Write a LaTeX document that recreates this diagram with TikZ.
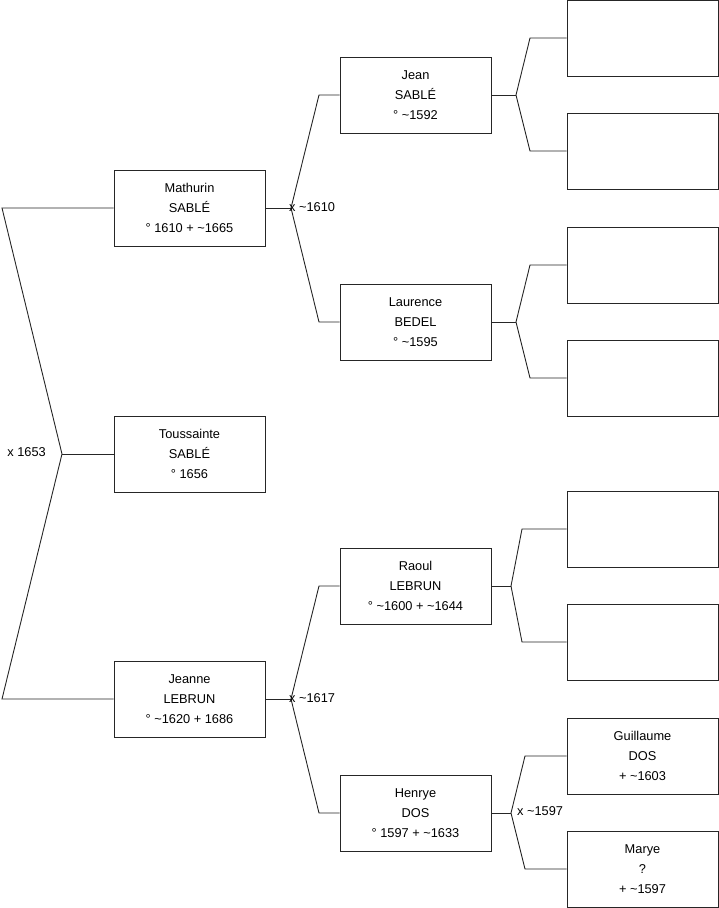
\documentclass[tikz,border=0pt]{standalone}
\usepackage{fontspec}
\setmainfont{Liberation Sans}
\begin{document}
\begin{tikzpicture}[x=1pt,y=-1pt,
  person/.style={draw=black!85,line width=0.9pt,minimum width=151pt,minimum height=76pt,inner sep=0pt,align=center,font=\fontsize{12.8}{20}\selectfont},
  link/.style={draw=black!85,line width=0.9pt},
  mlabel/.style={font=\fontsize{12.8}{14}\selectfont,inner sep=0pt}]
\useasboundingbox (0,0) rectangle (719,908);
% column 1
\node[person] (mathurin) at (189.5,208) {Mathurin\\SABLÉ\\° 1610 + \textasciitilde1665};
\node[person] (toussainte) at (189.5,454) {Toussainte\\SABLÉ\\° 1656};
\node[person] (jeanne) at (189.5,699) {Jeanne\\LEBRUN\\° \textasciitilde1620 + 1686};
% column 2
\node[person] (jean) at (415.5,95) {Jean\\SABLÉ\\° \textasciitilde1592};
\node[person] (laurence) at (415.5,322) {Laurence\\BEDEL\\° \textasciitilde1595};
\node[person] (raoul) at (415.5,586) {Raoul\\LEBRUN\\° \textasciitilde1600 + \textasciitilde1644};
\node[person] (henrye) at (415.5,813) {Henrye\\DOS\\° 1597 + \textasciitilde1633};
% column 3
\node[person] (p1) at (642.5,38) {};
\node[person] (p2) at (642.5,151) {};
\node[person] (p3) at (642.5,265) {};
\node[person] (p4) at (642.5,378) {};
\node[person] (p5) at (642.5,529) {};
\node[person] (p6) at (642.5,642) {};
\node[person] (guillaume) at (642.5,756) {Guillaume\\DOS\\+ \textasciitilde1603};
\node[person] (marye) at (642.5,869) {Marye\\?\\+ \textasciitilde1597};
% coordinates for forks
\coordinate (ja) at (2,208);
\coordinate (jb) at (62,454);
\coordinate (jc) at (2,699);
\draw[link] (mathurin.west) -- (ja) -- (jb) -- (jc) -- (jeanne.west);
\draw[link] (jb) -- (toussainte.west);
\node[mlabel,anchor=east] (l1653) at (46,452) {x 1653};
% Mathurin fork
\coordinate (ma) at (291,208);
\coordinate (mb) at (319,95);
\coordinate (mc) at (319,322);
\draw[link] (mathurin.east) -- (ma);
\draw[link] (jean.west) -- (mb) -- (ma) -- (mc) -- (laurence.west);
\node[mlabel,anchor=west] (l1610) at (289,207) {x \textasciitilde1610};
% Jeanne fork
\coordinate (na) at (291,699);
\coordinate (nb) at (319,586);
\coordinate (nc) at (319,813);
\draw[link] (jeanne.east) -- (na);
\draw[link] (raoul.west) -- (nb) -- (na) -- (nc) -- (henrye.west);
\node[mlabel,anchor=west] (l1617) at (289,698) {x \textasciitilde1617};
% Jean fork
\coordinate (ea) at (516,95);
\coordinate (eb) at (530,38);
\coordinate (ec) at (530,151);
\draw[link] (jean.east) -- (ea);
\draw[link] (p1.west) -- (eb) -- (ea) -- (ec) -- (p2.west);
% Laurence fork
\coordinate (la) at (516,322);
\coordinate (lb) at (530,265);
\coordinate (lc) at (530,378);
\draw[link] (laurence.east) -- (la);
\draw[link] (p3.west) -- (lb) -- (la) -- (lc) -- (p4.west);
% Raoul fork
\coordinate (ra) at (511,586);
\coordinate (rb) at (522,529);
\coordinate (rc) at (522,642);
\draw[link] (raoul.east) -- (ra);
\draw[link] (p5.west) -- (rb) -- (ra) -- (rc) -- (p6.west);
% Henrye fork
\coordinate (ha) at (511,813);
\coordinate (hb) at (525,756);
\coordinate (hc) at (525,869);
\draw[link] (henrye.east) -- (ha);
\draw[link] (guillaume.west) -- (hb) -- (ha) -- (hc) -- (marye.west);
\node[mlabel,anchor=west] (l1597) at (517,811) {x \textasciitilde1597};
\end{tikzpicture}
\end{document}
